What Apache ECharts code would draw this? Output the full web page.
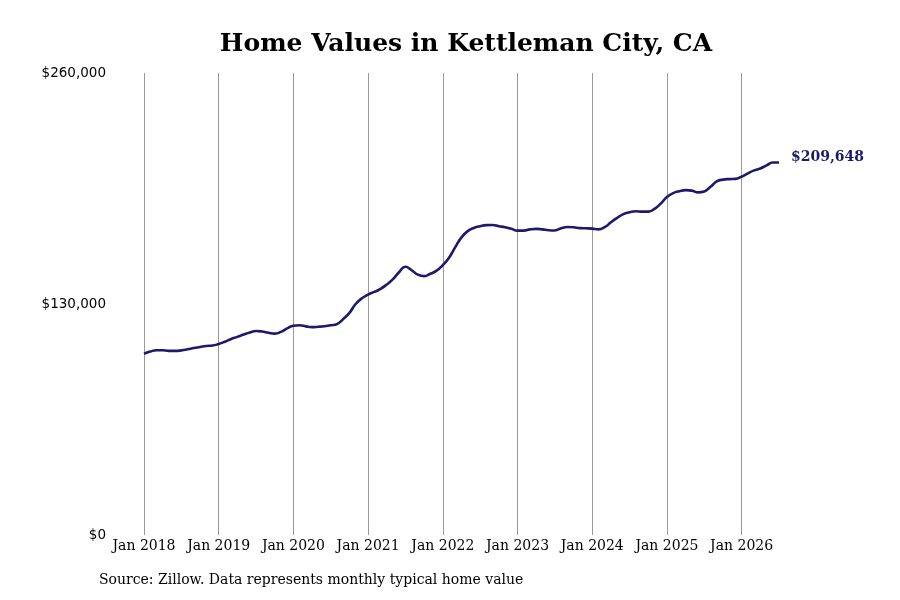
<!DOCTYPE html>
<html>
<head>
<meta charset="utf-8">
<script src="https://cdn.jsdelivr.net/npm/echarts@6/dist/echarts.min.js"></script>
<style>
html,body{margin:0;padding:0;background:#fff;}
#chart{width:900px;height:600px;}
</style>
</head>
<body>
<div id="chart"></div>
<script>
const monthNames = ['Jan','Feb','Mar','Apr','May','Jun','Jul','Aug','Sep','Oct','Nov','Dec'];
const startYear = 2018;
const yTicks = [0, 130000, 260000];
const homeValues = [
  102000,103200,104000,104000,103600,103600,103900,104500,105200,105800,106400,106600,
  107500,108800,110300,111500,112800,114000,114800,114500,113800,113300,114300,116300,
  117800,118000,117400,117000,117200,117500,118000,118700,121500,125000,130000,133200,
  135300,136800,138500,141000,144000,148000,151000,149000,146500,145700,147000,148800,
  151900,156000,162000,167500,171000,172800,173800,174400,174500,173800,173200,172300,
  171300,171300,172000,172300,172000,171500,171400,172600,173300,173200,172700,172600,
  172400,172000,173200,176000,178500,180600,181600,182200,182000,182000,183500,186500,
  190200,192400,193500,194100,193800,192800,193300,196000,199000,200000,200300,200400,
  201700,203500,205200,206300,208000,209600,209648
];
const categories = homeValues.map((_, i) => monthNames[i % 12] + ' ' + (startYear + Math.floor(i / 12)));

const chart = echarts.init(document.getElementById('chart'));
const serif = "'DejaVu Serif', 'Liberation Serif', serif";
const sans = "'DejaVu Sans', sans-serif";
chart.setOption({
  animation: false,
  backgroundColor: '#ffffff',
  title: {
    text: 'Home Values in Kettleman City, CA',
    left: 461, top: 27, textAlign: 'center',
    textStyle: {fontFamily: serif, fontSize: 25, fontWeight: 'bold', color: '#000'}
  },
  grid: {left: 144, right: 121, top: 73, bottom: 65, containLabel: false},
  xAxis: {
    type: 'category',
    data: categories,
    boundaryGap: false,
    axisLine: {show: false},
    axisTick: {show: false},
    axisLabel: {
      interval: (i) => i % 12 === 0,
      fontFamily: serif, fontSize: 14, color: '#000', margin: 4
    },
    splitLine: {
      show: true,
      interval: (i) => i % 12 === 0,
      lineStyle: {color: '#999999', width: 1}
    }
  },
  yAxis: {
    type: 'value',
    min: yTicks[0], max: yTicks[2], interval: yTicks[1],
    axisLine: {show: false},
    axisTick: {show: false},
    splitLine: {show: false},
    axisLabel: {
      fontFamily: sans, fontSize: 13.5, color: '#000', margin: 38,
      formatter: (v) => '$' + v.toLocaleString('en-US')
    }
  },
  series: [{
    type: 'line',
    data: homeValues,
    smooth: true,
    showSymbol: false,
    lineStyle: {color: '#1c1a6b', width: 2.6},
    itemStyle: {color: '#1c1a6b'},
    endLabel: {
      show: true,
      distance: 12,
      offset: [0, -5],
      fontFamily: serif, fontSize: 14, fontWeight: 'bold', color: '#1c1a6b',
      formatter: (p) => '$' + p.value.toLocaleString('en-US')
    }
  }],
  graphic: [{
    type: 'text', left: 99, top: 573,
    style: {text: 'Source: Zillow. Data represents monthly typical home value', font: "14px 'DejaVu Serif', 'Liberation Serif', serif", fill: '#000'}
  }]
});
</script>
</body>
</html>
